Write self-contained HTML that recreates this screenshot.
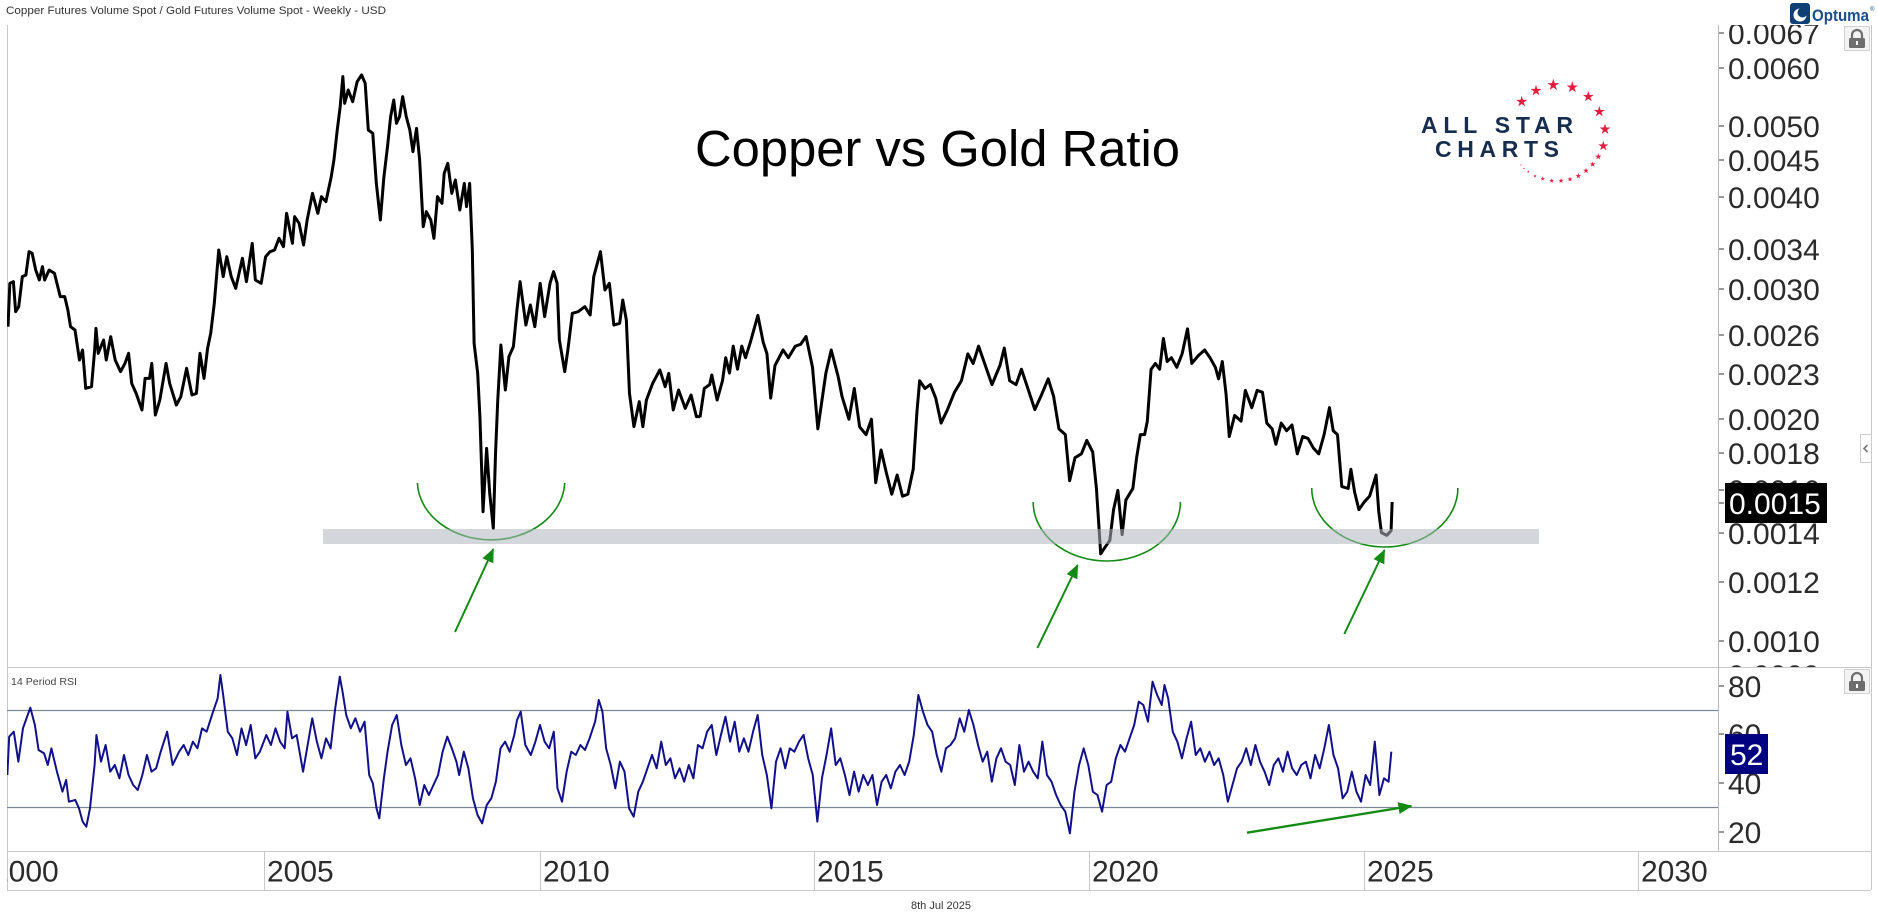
<!DOCTYPE html>
<html><head><meta charset="utf-8"><style>
html,body{margin:0;padding:0;background:#fff;}
svg{display:block;}
text{font-family:"Liberation Sans",Arial,sans-serif;}
</style></head><body>
<svg width="1878" height="924" viewBox="0 0 1878 924" xmlns="http://www.w3.org/2000/svg">
<defs>
<clipPath id="cMainAx"><rect x="1719" y="25" width="152" height="642"/></clipPath>
<clipPath id="cRsiAx"><rect x="1719" y="668" width="152" height="183"/></clipPath>
<clipPath id="cDate"><rect x="7" y="852" width="1864" height="38"/></clipPath>
<clipPath id="cPlot"><rect x="7" y="25" width="1711" height="826"/></clipPath>
<polygon id="star" points="0,-1 0.2245,-0.309 0.951,-0.309 0.3633,0.118 0.588,0.809 0,0.382 -0.588,0.809 -0.3633,0.118 -0.951,-0.309 -0.2245,-0.309"/>
<marker id="ah" markerUnits="userSpaceOnUse" markerWidth="14" markerHeight="12" refX="13" refY="6" orient="auto">
<path d="M0,0 L14,6 L0,12 z" fill="#138a13"/>
</marker>
</defs>
<rect width="1878" height="924" fill="#fff"/>

<!-- header -->
<text x="6" y="14" font-size="11" fill="#333" textLength="380" lengthAdjust="spacingAndGlyphs">Copper Futures Volume Spot / Gold Futures Volume Spot - Weekly - USD</text>

<!-- Optuma logo -->
<rect x="1790" y="3" width="20" height="21" rx="3" fill="#0e3f75"/>
<circle cx="1800" cy="15" r="6.5" fill="#fff"/>
<circle cx="1802.5" cy="12.5" r="5" fill="#0e3f75"/>
<text x="1812" y="21" font-size="17" font-weight="bold" fill="#1b4e8c" textLength="57" lengthAdjust="spacingAndGlyphs">Optuma</text>
<text x="1870" y="11" font-size="6" fill="#1b4e8c">®</text>

<!-- frame lines -->
<g stroke="#c8c8c8" stroke-width="1" fill="none">
<line x1="7.5" y1="25" x2="7.5" y2="890"/>
<line x1="1871.5" y1="25" x2="1871.5" y2="890"/>
<line x1="7" y1="667.5" x2="1871" y2="667.5"/>
<line x1="7" y1="851.5" x2="1871" y2="851.5"/>
<line x1="7" y1="890.5" x2="1871" y2="890.5"/>
<line x1="264.5" y1="851" x2="264.5" y2="890"/>
<line x1="540.5" y1="851" x2="540.5" y2="890"/>
<line x1="814.5" y1="851" x2="814.5" y2="890"/>
<line x1="1089.5" y1="851" x2="1089.5" y2="890"/>
<line x1="1364.5" y1="851" x2="1364.5" y2="890"/>
<line x1="1638.5" y1="851" x2="1638.5" y2="890"/>
</g>
<line x1="1718.5" y1="25" x2="1718.5" y2="851" stroke="#b8b8b8" stroke-width="1"/>

<!-- title -->
<text x="695" y="166" font-size="51" fill="#000" textLength="485" lengthAdjust="spacingAndGlyphs">Copper vs Gold Ratio</text>

<!-- All Star Charts logo -->
<text x="1421" y="133" font-size="23" font-weight="bold" fill="#172d4d" textLength="152" lengthAdjust="spacing">ALL STAR</text>
<text x="1435" y="157" font-size="23" font-weight="bold" fill="#172d4d" textLength="124" lengthAdjust="spacing">CHARTS</text>
<g fill="#e41e3f">
<use href="#star" transform="translate(1553.3,85) scale(6.2)"/>
<use href="#star" transform="translate(1572.3,87.3) scale(6)"/>
<use href="#star" transform="translate(1588.3,96.7) scale(5.7)"/>
<use href="#star" transform="translate(1599.3,111.7) scale(5.7)"/>
<use href="#star" transform="translate(1605,129.3) scale(5.7)"/>
<use href="#star" transform="translate(1603.3,146) scale(5.3)"/>
<use href="#star" transform="translate(1598.3,156.7) scale(3.4)"/>
<use href="#star" transform="translate(1592.7,164.3) scale(3.1)"/>
<use href="#star" transform="translate(1586,170.7) scale(3)"/>
<use href="#star" transform="translate(1578.3,176) scale(3)"/>
<use href="#star" transform="translate(1570,179.3) scale(2.7)"/>
<use href="#star" transform="translate(1561,180.7) scale(2.7)"/>
<use href="#star" transform="translate(1551.7,180.7) scale(2.6)"/>
<use href="#star" transform="translate(1542.7,178.7) scale(2.3)"/>
<use href="#star" transform="translate(1535,176) scale(1.8)"/>
<use href="#star" transform="translate(1528.3,171.7) scale(1.4)"/>
<use href="#star" transform="translate(1524,168.3) scale(1.1)"/>
<use href="#star" transform="translate(1521,165) scale(1)"/>
<use href="#star" transform="translate(1536,90.7) scale(5.8)"/>
<use href="#star" transform="translate(1521.7,101.7) scale(5.8)"/>
</g>

<!-- main series -->
<g clip-path="url(#cPlot)">
<g transform="translate(0,50) scale(0.446429,0.333333)">
<polyline vector-effect="non-scaling-stroke" fill="none" stroke="#000" stroke-width="3" stroke-linejoin="round" points="18,830 22,700 30,695 35,785 42,770 50,680 58,675 65,605 72,610 80,660 88,690 95,650 100,690 110,660 122,670 135,740 145,740 152,780 158,830 168,840 178,930 185,900 192,1015 205,1010 212,900 215,835 220,910 232,870 238,930 248,860 258,930 270,965 280,940 288,910 295,1000 305,1030 318,1080 325,985 335,985 340,940 348,1095 358,1050 372,940 380,1000 395,1065 405,1040 418,955 430,1035 440,1030 448,910 457,985 465,895 472,850 480,760 490,600 500,680 508,620 518,680 528,715 543,625 552,695 565,580 572,690 585,700 595,620 605,605 615,600 625,565 635,590 642,490 655,580 660,500 670,520 680,585 688,510 700,430 712,490 720,440 730,455 742,380 748,330 755,245 762,170 768,80 772,160 780,120 790,155 800,95 810,75 818,100 825,240 835,250 843,400 852,510 860,380 868,290 875,200 882,150 888,220 895,200 902,140 910,200 918,240 925,305 933,235 940,330 948,530 955,485 965,510 972,565 980,440 990,460 995,370 1003,340 1012,430 1020,390 1030,480 1040,400 1045,470 1052,400 1058,600 1062,880 1070,970 1075,1100 1082,1385 1090,1195 1097,1330 1105,1435 1110,1210 1115,1050 1122,885 1132,1020 1140,920 1150,890 1158,780 1165,695 1178,825 1188,765 1198,830 1210,700 1220,800 1232,700 1240,665 1248,700 1253,870 1265,965 1272,900 1282,790 1295,785 1310,770 1322,795 1330,680 1345,605 1355,720 1365,700 1375,825 1388,820 1395,750 1403,810 1410,1030 1420,1130 1432,1055 1440,1130 1448,1050 1462,1000 1478,960 1490,1010 1498,970 1508,1080 1520,1020 1535,1075 1548,1035 1560,1100 1568,1100"/>
</g>
<g transform="translate(700,50) scale(0.535714,0.384615)">
<polyline vector-effect="non-scaling-stroke" fill="none" stroke="#000" stroke-width="3" stroke-linejoin="round" points="0,955 8,880 18,870 22,845 32,910 42,860 48,800 55,840 62,770 70,830 78,770 85,800 95,755 108,690 118,760 125,790 132,905 140,820 155,780 165,800 178,770 188,765 198,745 210,825 220,985 235,840 245,780 258,850 265,900 278,960 288,880 298,980 310,1000 320,960 328,1125 338,1040 348,1100 358,1155 368,1105 378,1160 388,1155 398,1090 405,940 410,860 420,880 430,870 440,905 450,970 462,935 475,890 488,860 500,790 510,815 520,770 530,810 545,870 560,820 568,775 578,860 590,870 600,830 612,880 625,935 638,895 650,855 660,900 670,985 682,1000 690,1120 700,1060 712,1050 722,1015 733,1045 740,1140 748,1310 755,1295 765,1275 772,1195 780,1145 788,1260 795,1170 808,1140 815,1060 822,1000 830,1000 835,965 842,830 850,815 858,830 865,750 872,810 880,800 890,825 900,790 910,725 918,815 930,795 942,780 952,800 962,825 968,855 975,810 982,895 988,1005 998,950 1010,965 1018,885 1030,930 1040,885 1050,890 1058,970 1068,985 1075,1025 1085,970 1095,990 1105,975 1115,1050 1125,1005 1135,1010 1145,1035 1155,1050 1165,1000 1175,930 1182,990 1190,1000 1198,1135 1210,1140 1215,1090 1222,1150 1230,1195 1240,1175 1250,1160 1262,1105 1267,1200 1272,1255 1282,1262 1290,1250 1292,1175"/>
</g>

<!-- green arcs -->
<g fill="none" stroke="#138a13" stroke-width="1.6">
<path d="M417.4,483 A73.7,59 0 0 0 564.7,483"/>
<path d="M1033.2,502 A73.6,59 0 0 0 1180.4,502"/>
<path d="M1311.7,488 A73.1,59 0 0 0 1457.9,488"/>
</g>

<!-- support band -->
<rect x="323" y="529" width="1216" height="15" fill="#afb6be" fill-opacity="0.55"/>

<!-- arrows -->
<g stroke="#138a13" stroke-width="2" fill="none">
<line x1="455" y1="632" x2="493.3" y2="549" marker-end="url(#ah)"/>
<line x1="1037.4" y1="648" x2="1077.6" y2="565" marker-end="url(#ah)"/>
<line x1="1344.3" y1="634" x2="1384.5" y2="550" marker-end="url(#ah)"/>
</g>

<!-- RSI -->
<line x1="7" y1="710.5" x2="1718" y2="710.5" stroke="#7a8896" stroke-width="1.2"/>
<line x1="7" y1="807.5" x2="1718" y2="807.5" stroke="#7a8896" stroke-width="1.2"/>
<text x="11" y="685" font-size="10" fill="#444" textLength="66" lengthAdjust="spacingAndGlyphs">14 Period RSI</text>
<g transform="translate(0,665) scale(0.918367,0.333333)">
<polyline vector-effect="non-scaling-stroke" fill="none" stroke="#10108a" stroke-width="2" stroke-linejoin="round" points="8,330 10,215 15,200 20,290 25,190 33,128 38,180 42,255 48,265 52,300 56,250 62,320 68,380 72,345 75,410 82,405 86,430 90,470 94,485 98,430 103,300 105,210 110,290 115,240 120,320 125,300 130,340 135,270 140,330 145,360 150,375 155,330 160,270 165,320 170,310 175,260 182,200 188,300 195,260 200,240 205,270 210,230 215,250 220,190 225,200 232,140 237,100 240,30 243,90 248,200 253,220 258,270 263,190 268,240 273,180 278,280 283,260 290,210 295,240 300,190 305,230 310,250 313,140 318,220 323,210 330,320 335,240 340,160 345,230 350,280 355,220 360,250 365,130 370,35 373,80 377,150 382,190 387,160 392,200 397,170 402,330 406,355 410,430 413,460 418,340 422,260 427,180 432,150 437,240 442,300 447,280 452,340 457,420 462,360 467,390 472,360 477,330 482,260 487,215 492,250 497,290 500,330 505,260 510,310 515,400 520,450 525,475 530,420 535,400 540,350 545,250 550,230 555,260 560,210 563,165 567,140 572,240 578,270 583,230 588,180 593,230 598,250 603,200 607,370 612,410 617,320 622,260 627,270 632,240 637,255 642,220 648,170 652,105 656,140 660,250 665,300 670,370 675,290 680,320 685,430 690,455 695,380 700,350 705,310 710,270 715,310 720,230 725,300 730,280 735,340 740,310 745,350 750,300 755,340 760,240 765,250 770,200 775,180 780,270 785,210 790,155 795,230 800,170 805,260 810,220 815,260 820,200 825,150 830,270 835,330 840,430 845,290 850,250 855,310 860,250 865,260 870,230 875,210 880,280 885,330 890,470 895,340 900,270 905,190 910,300 915,280 920,330 925,390 930,320 935,380 940,330 945,360 950,330 955,420 960,350 965,330 970,370 975,320 980,300 985,330 990,290 995,210 1000,90 1005,140 1010,180 1015,200 1020,270 1025,320 1030,250 1035,240 1040,220 1045,160 1050,200 1055,135 1060,180 1065,240 1070,290 1075,260 1080,350 1085,280 1090,250 1095,290 1100,300 1105,360 1110,240 1115,320 1120,290 1125,320 1130,340 1135,230 1140,330 1145,350 1150,390 1155,420 1160,440 1165,505 1170,380 1175,300 1180,250 1185,300 1190,380 1195,390 1200,440 1205,360 1210,350 1215,280 1220,240 1225,260 1230,220 1235,180 1240,110 1245,120 1250,170 1255,50 1260,90 1265,120 1268,60 1272,100 1277,200 1282,230 1287,280 1292,220 1297,170 1302,270 1307,250 1312,290 1317,260 1322,300 1327,280 1332,330 1337,410 1342,360 1347,310 1352,290 1357,250 1362,300 1367,240 1372,290 1377,320 1382,360 1387,300 1392,280 1397,320 1402,260 1407,310 1412,330 1417,300 1422,290 1427,340 1432,270 1437,310 1442,250 1447,180 1452,270 1457,310 1462,400 1467,380 1472,320 1477,380 1482,410 1487,330 1492,360 1497,230 1502,390 1507,340 1512,350 1515,260"/>
</g>
<line x1="1247" y1="832.7" x2="1411.4" y2="806" stroke="#138a13" stroke-width="2.4" marker-end="url(#ah)"/>
</g>

<!-- main y-axis -->
<g clip-path="url(#cMainAx)">
<g stroke="#333" stroke-width="1">
<line x1="1718" y1="33" x2="1724" y2="33"/>
<line x1="1718" y1="68" x2="1724" y2="68"/>
<line x1="1718" y1="126" x2="1724" y2="126"/>
<line x1="1718" y1="160" x2="1724" y2="160"/>
<line x1="1718" y1="197" x2="1724" y2="197"/>
<line x1="1718" y1="249" x2="1724" y2="249"/>
<line x1="1718" y1="289" x2="1724" y2="289"/>
<line x1="1718" y1="335" x2="1724" y2="335"/>
<line x1="1718" y1="374" x2="1724" y2="374"/>
<line x1="1718" y1="419" x2="1724" y2="419"/>
<line x1="1718" y1="453" x2="1724" y2="453"/>
<line x1="1718" y1="490" x2="1724" y2="490"/>
<line x1="1718" y1="503" x2="1724" y2="503"/>
<line x1="1718" y1="533" x2="1724" y2="533"/>
<line x1="1718" y1="582" x2="1724" y2="582"/>
<line x1="1718" y1="641" x2="1724" y2="641"/>
</g>
<g font-size="30" fill="#2b2b2b">
<text x="1728" y="44">0.0067</text>
<text x="1728" y="79">0.0060</text>
<text x="1728" y="137">0.0050</text>
<text x="1728" y="171">0.0045</text>
<text x="1728" y="208">0.0040</text>
<text x="1728" y="260">0.0034</text>
<text x="1728" y="300">0.0030</text>
<text x="1728" y="346">0.0026</text>
<text x="1728" y="385">0.0023</text>
<text x="1728" y="430">0.0020</text>
<text x="1728" y="464">0.0018</text>
<text x="1728" y="501">0.0016</text>
<text x="1728" y="544">0.0014</text>
<text x="1728" y="593">0.0012</text>
<text x="1728" y="652">0.0010</text>
<text x="1728" y="686">0.0009</text>
</g>
<rect x="1725" y="483" width="102" height="40" fill="#000"/>
<text x="1729" y="514" font-size="30" fill="#fff">0.0015</text>
</g>

<!-- RSI y-axis -->
<g clip-path="url(#cRsiAx)">
<g stroke="#333" stroke-width="1">
<line x1="1718" y1="686" x2="1724" y2="686"/>
<line x1="1718" y1="734" x2="1724" y2="734"/>
<line x1="1718" y1="783" x2="1724" y2="783"/>
<line x1="1718" y1="832" x2="1724" y2="832"/>
</g>
<g font-size="30" fill="#2b2b2b">
<text x="1728" y="697">80</text>
<text x="1728" y="745">60</text>
<text x="1728" y="794">40</text>
<text x="1728" y="843">20</text>
</g>
<rect x="1725" y="734" width="43" height="40" fill="#000080"/>
<text x="1730" y="765" font-size="30" fill="#fff">52</text>
</g>

<!-- lock icons -->
<g>
<rect x="1844.5" y="26.5" width="25" height="24" fill="#f3f3f3" stroke="#d2d2d2"/>
<path d="M1852,38 v-3 a5,5 0 0 1 10,0 v3" fill="none" stroke="#6e6e6e" stroke-width="2.2"/>
<rect x="1849" y="38" width="16" height="10" rx="1.5" fill="#6e6e6e"/>
<rect x="1856" y="41" width="2" height="4" fill="#fff"/>
</g>
<g transform="translate(0,643)">
<rect x="1844.5" y="26.5" width="25" height="24" fill="#f3f3f3" stroke="#d2d2d2"/>
<path d="M1852,38 v-3 a5,5 0 0 1 10,0 v3" fill="none" stroke="#6e6e6e" stroke-width="2.2"/>
<rect x="1849" y="38" width="16" height="10" rx="1.5" fill="#6e6e6e"/>
<rect x="1856" y="41" width="2" height="4" fill="#fff"/>
</g>
<!-- side tab -->
<rect x="1860.5" y="434.5" width="11" height="28" fill="#fff" stroke="#cccccc"/>
<path d="M1867.5,445 l-3.5,3.5 l3.5,3.5" fill="none" stroke="#777" stroke-width="1.6"/>

<!-- date axis -->
<g clip-path="url(#cDate)" font-size="30" fill="#2b2b2b">
<text x="-8" y="881.5">2000</text>
<text x="267" y="881.5">2005</text>
<text x="543" y="881.5">2010</text>
<text x="817" y="881.5">2015</text>
<text x="1092" y="881.5">2020</text>
<text x="1367" y="881.5">2025</text>
<text x="1641" y="881.5">2030</text>
</g>

<!-- footer -->
<text x="911" y="909" font-size="11" fill="#333" textLength="60" lengthAdjust="spacingAndGlyphs">8th Jul 2025</text>
</svg>
</body></html>
